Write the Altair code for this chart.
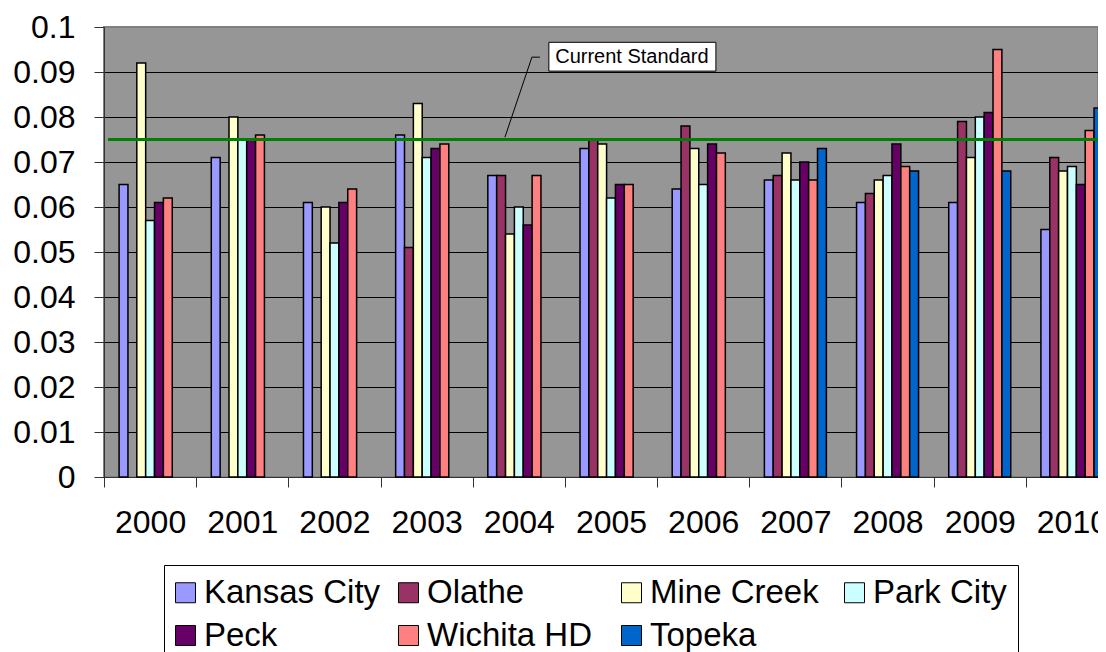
import altair as alt
import pandas as pd

years = ["2000", "2001", "2002", "2003", "2004", "2005", "2006", "2007", "2008", "2009", "2010"]
sites = ["Kansas City", "Olathe", "Mine Creek", "Park City", "Peck", "Wichita HD", "Topeka"]
site_colors = ["#9999FF", "#993366", "#FFFFCC", "#CCFFFF", "#660066", "#FF8080", "#0066CC"]

kansas_city = [0.065, 0.071, 0.061, 0.076, 0.067, 0.073, 0.064, 0.066, 0.061, 0.061, 0.055]
olathe = [None, None, None, 0.051, 0.067, 0.075, 0.078, 0.067, 0.063, 0.079, 0.071]
mine_creek = [0.092, 0.080, 0.060, 0.083, 0.054, 0.074, 0.073, 0.072, 0.066, 0.071, 0.068]
park_city = [0.057, 0.075, 0.052, 0.071, 0.060, 0.062, 0.065, 0.066, 0.067, 0.080, 0.069]
peck = [0.061, 0.075, 0.061, 0.073, 0.056, 0.065, 0.074, 0.070, 0.074, 0.081, 0.065]
wichita_hd = [0.062, 0.076, 0.064, 0.074, 0.067, 0.065, 0.072, 0.066, 0.069, 0.095, 0.077]
topeka = [None, None, None, None, None, None, None, 0.073, 0.068, 0.068, 0.082]

y_ticks = [0, 0.01, 0.02, 0.03, 0.04, 0.05, 0.06, 0.07, 0.08, 0.09, 0.1]

standard_value = 0.075
standard_label = "Current Standard"
# annotation placement in group units (group i spans [i, i+1]) and data units
standard_line_x = [0.043, 11.0]
label_box_x = [4.826, 6.638]
label_box_y = [0.0966, 0.0902]
label_pos = [5.727, 0.0934]
leader_x = [4.729, 4.642, 4.349]
leader_y = [0.0933, 0.0933, 0.0755]

series = [kansas_city, olathe, mine_creek, park_city, peck, wichita_hd, topeka]
rows = []
for name, vals in zip(sites, series):
    for yr, v in zip(years, vals):
        if v is not None:
            rows.append({"year": yr, "site": name, "value": v})
df = pd.DataFrame(rows)

FONT = "Liberation Sans"
PLOT_RANGE = 1014
GROUP_INNER = [15.1, 77.1]  # bar cluster extent inside each year band
ydom = alt.Scale(domain=[0, 0.1])
xq = alt.Scale(domain=[0, 11], range=[0, PLOT_RANGE])

y_axis = alt.Axis(
    title=None, values=y_ticks, format=".2~f", labelFontSize=32, labelFont=FONT,
    labelColor="black", labelPadding=19, tickSize=10, tickColor="#333333",
    domainColor="#333333", grid=True,
    gridColor={"condition": {"test": "datum.value > 0.095", "value": "#808080"}, "value": "black"},
    gridWidth=1,
)

bars = alt.Chart(df).mark_bar(stroke="black", strokeWidth=1.5).encode(
    x=alt.X(
        "year:N",
        scale=alt.Scale(domain=years, range=[0, PLOT_RANGE], paddingInner=0, paddingOuter=0),
        axis=alt.Axis(
            title=None, tickBand="extent", labelAngle=0, labelFontSize=32, labelFont=FONT,
            labelColor="black", labelPadding=20, tickSize=10, tickColor="#333333",
            domainColor="#333333", grid=False,
        ),
    ),
    xOffset=alt.XOffset("site:N", scale=alt.Scale(domain=sites, range=GROUP_INNER, paddingInner=0, paddingOuter=0)),
    y=alt.Y("value:Q", scale=ydom, axis=y_axis),
    color=alt.Color(
        "site:N",
        scale=alt.Scale(domain=sites, range=site_colors),
        legend=alt.Legend(
            title=None, orient="none", legendX=60, legendY=538, direction="horizontal",
            columns=4, symbolType="square", symbolSize=400, symbolStrokeColor="black",
            symbolStrokeWidth=1, symbolOpacity=1, symbolOffset=-6, labelFontSize=33,
            labelFont=FONT, labelColor="black", labelOffset=2, columnPadding=15, rowPadding=9,
            padding=11, strokeColor="black", fillColor="white", gridAlign="all", labelLimit=0,
        ),
    ),
)

std_df = pd.DataFrame({"x0": [standard_line_x[0]], "x1": [standard_line_x[1]], "value": [standard_value]})
std_rule = alt.Chart(std_df).mark_rule(color="#008000", strokeWidth=3).encode(
    x=alt.X("x0:Q", scale=xq, axis=None),
    x2="x1",
    y=alt.Y("value:Q", scale=ydom, axis=y_axis),
)

lead_df = pd.DataFrame({"lx": leader_x, "value": leader_y, "order": [0, 1, 2]})
leader = alt.Chart(lead_df).mark_line(color="black", strokeWidth=1).encode(
    x=alt.X("lx:Q", scale=xq, axis=None),
    y=alt.Y("value:Q", scale=ydom, axis=y_axis),
    order="order:O",
)

box_df = pd.DataFrame({"bx": [label_box_x[0]], "bx2": [label_box_x[1]],
                       "value": [label_box_y[0]], "value2": [label_box_y[1]]})
box = alt.Chart(box_df).mark_rect(fill="white", stroke="black", strokeWidth=1).encode(
    x=alt.X("bx:Q", scale=xq, axis=None),
    x2="bx2",
    y=alt.Y("value:Q", scale=ydom, axis=y_axis),
    y2="value2",
)

txt_df = pd.DataFrame({"tx": [label_pos[0]], "value": [label_pos[1]], "label": [standard_label]})
txt = alt.Chart(txt_df).mark_text(fontSize=20, font=FONT, color="black", align="center", baseline="middle").encode(
    x=alt.X("tx:Q", scale=xq, axis=None),
    y=alt.Y("value:Q", scale=ydom, axis=y_axis),
    text="label:N",
)

chart = alt.layer(bars, std_rule, leader, box, txt).resolve_scale(x="independent").properties(
    width=994,
    height=450,
    autosize=alt.AutoSizeParams(type="none"),
    padding={"left": 96, "top": 19, "right": 0, "bottom": 175},
    background="white",
).configure(font=FONT).configure_view(fill="#969696", stroke="#808080", strokeWidth=2)

chart.save("out.html", embed_options={"renderer": "svg", "actions": False})
